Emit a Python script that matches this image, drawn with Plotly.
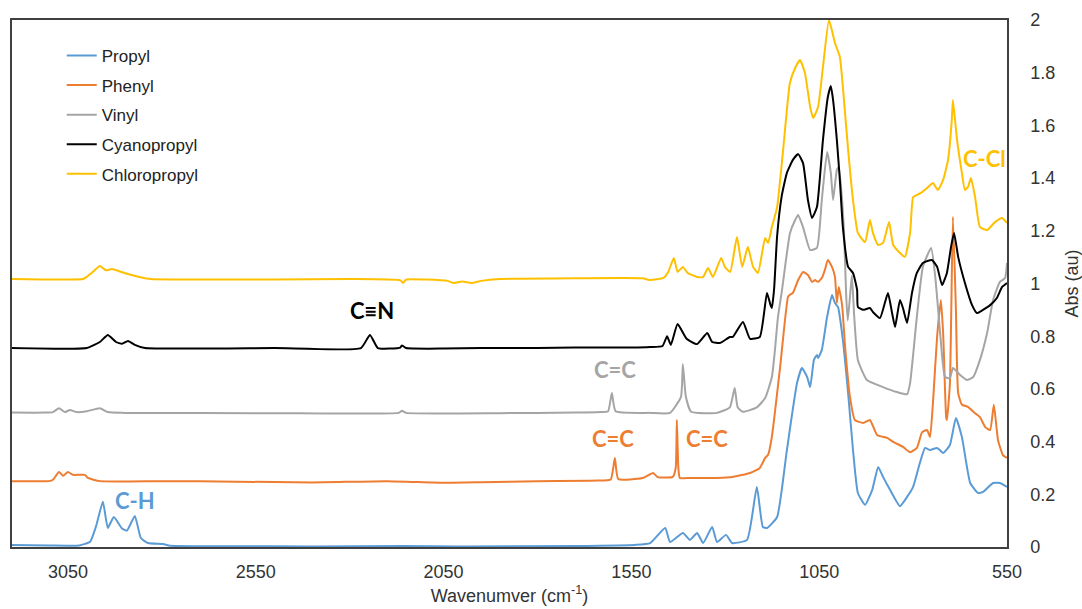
import plotly.graph_objects as go

# ---------------- data (wavenumber cm-1, absorbance au) ----------------
propyl_wn = [3199, 3100, 3020, 2991, 2975, 2957, 2944, 2928, 2906, 2893, 2872, 2856, 2837, 2797, 2778,
             2600, 2400, 2160, 2000, 1700, 1540, 1500, 1460, 1447, 1413, 1394, 1375, 1359, 1335, 1322,
             1298, 1282, 1242, 1216, 1200, 1189, 1162, 1136, 1109, 1096, 1082, 1074, 1064, 1056, 1053,
             1043, 1029, 1016, 1008, 1000, 987, 973, 960, 947, 928, 909, 893, 880, 861, 835, 816, 800,
             782, 768, 755, 736, 720, 702, 686, 670, 648, 627, 614, 587, 569, 550]
propyl_abs = [0.008, 0.006, 0.006, 0.02, 0.08, 0.172, 0.072, 0.114, 0.07, 0.062, 0.118, 0.034, 0.015, 0.011, 0.005,
              0.003, 0.002, 0.004, 0.002, 0.004, 0.008, 0.015, 0.072, 0.019, 0.053, 0.027, 0.053, 0.015, 0.076, 0.019,
              0.046, 0.015, 0.027, 0.228, 0.076, 0.072, 0.114, 0.368, 0.622, 0.679, 0.645, 0.607, 0.71, 0.729, 0.717,
              0.748, 0.873, 0.956, 0.926, 0.911, 0.786, 0.584, 0.368, 0.205, 0.16, 0.216, 0.304, 0.266, 0.216, 0.155, 0.19, 0.228,
              0.319, 0.376, 0.368, 0.376, 0.357, 0.387, 0.49, 0.417, 0.243, 0.205, 0.209, 0.243, 0.243, 0.228]

phenyl_wn = [3199, 3100, 3090, 3074, 3063, 3050, 3037, 3018, 3005, 2997, 2965, 2800, 2600, 2400, 2200, 2050,
             1950, 1800, 1640, 1605, 1594, 1585, 1520, 1492, 1480, 1440, 1432, 1429, 1425, 1421, 1394, 1322,
             1280, 1234, 1208, 1194, 1186, 1176, 1154, 1133, 1128, 1120, 1106, 1093, 1080, 1069, 1061, 1053,
             1043, 1035, 1027, 1016, 1008, 1003, 998, 989, 981, 968, 955, 933, 915, 896, 869, 853, 827, 808,
             790, 776, 763, 755, 747, 736, 726, 720, 712, 710, 702, 694, 686, 680, 670, 654, 635, 622, 608,
             595, 585, 574, 561, 550]
phenyl_abs = [0.25, 0.25, 0.255, 0.285, 0.27, 0.285, 0.274, 0.274, 0.274, 0.262, 0.25, 0.25, 0.248, 0.245, 0.25, 0.244,
              0.246, 0.25, 0.252, 0.256, 0.338, 0.258, 0.262, 0.281, 0.265, 0.266, 0.3, 0.482, 0.3, 0.262, 0.262, 0.262,
              0.266, 0.281, 0.3, 0.338, 0.35, 0.418, 0.683, 0.949, 0.957, 0.964, 1.013, 1.044, 1.032, 1.006, 1.013, 1.006,
              1.021, 1.051, 1.089, 1.063, 1.025, 0.926, 0.987, 0.918, 0.759, 0.569, 0.482, 0.471, 0.482, 0.425, 0.414, 0.399, 0.38, 0.36,
              0.376, 0.436, 0.444, 0.417, 0.55, 0.8, 0.937, 0.81, 0.493, 0.482, 0.62, 1.252, 0.9, 0.584, 0.54, 0.532, 0.508, 0.493, 0.455,
              0.444, 0.54, 0.406, 0.349, 0.338]

vinyl_wn = [3199, 3110, 3090, 3074, 3058, 3045, 3027, 3000, 2965, 2944, 2900, 2500, 2170, 2161, 2150, 1900,
            1700, 1630, 1612, 1602, 1592, 1500, 1447, 1418, 1413, 1405, 1391, 1322, 1288, 1275, 1267, 1253,
            1216, 1194, 1176, 1168, 1160, 1149, 1128, 1114, 1106, 1093, 1074, 1056, 1043, 1029, 1019, 1013,
            1003, 998, 989, 984, 978, 974, 968, 963, 957, 947, 923, 880, 843, 816, 808, 790, 774, 752, 741,
            728, 715, 702, 694, 675, 657, 640, 622, 603, 587, 569, 555, 550]
vinyl_abs = [0.51, 0.51, 0.512, 0.527, 0.512, 0.52, 0.512, 0.515, 0.527, 0.512, 0.509, 0.508, 0.509, 0.517, 0.509, 0.508,
             0.51, 0.512, 0.515, 0.584, 0.515, 0.509, 0.509, 0.57, 0.694, 0.57, 0.513, 0.509, 0.53, 0.603, 0.53, 0.513,
             0.53, 0.565, 0.645, 0.745, 0.87, 0.975, 1.19, 1.241, 1.26, 1.214, 1.127, 1.135, 1.317, 1.499, 1.419, 1.317,
             1.431, 1.442, 1.317, 1.2, 0.95, 0.86, 0.95, 1.03, 0.88, 0.71, 0.634, 0.607, 0.588, 0.58, 0.622, 0.873, 1.063, 1.135, 1.025,
             0.812, 0.645, 0.641, 0.679, 0.653, 0.634, 0.645, 0.71, 0.812, 0.937, 1.006, 1.021, 1.078]

cyano_wn = [3199, 3000, 2965, 2944, 2922, 2906, 2890, 2872, 2845, 2500, 2270, 2246, 2225, 2165, 2161, 2150,
            2050, 1950, 1800, 1700, 1550, 1500, 1467, 1455, 1445, 1427, 1403, 1375, 1348, 1335, 1314, 1288,
            1280, 1253, 1234, 1208, 1189, 1180, 1176, 1170, 1162, 1150, 1136, 1120, 1106, 1093, 1080, 1069, 1056, 1040,
            1027, 1019, 1013, 1003, 995, 987, 973, 960, 949, 947, 933, 915, 907, 888, 867, 856, 848, 835, 827,
            816, 803, 790, 774, 750, 736, 723, 710, 699, 691, 680, 662, 643, 630, 614, 595, 577, 563, 550]
cyano_abs = [0.755, 0.755, 0.778, 0.805, 0.778, 0.771, 0.782, 0.767, 0.755, 0.755, 0.755, 0.805, 0.755, 0.757, 0.765, 0.755,
             0.753, 0.755, 0.755, 0.757, 0.757, 0.759, 0.763, 0.8, 0.767, 0.846, 0.79, 0.77, 0.812, 0.778, 0.774, 0.797,
             0.797, 0.854, 0.79, 0.797, 0.964, 0.92, 0.907, 0.98, 1.18, 1.33, 1.42, 1.469, 1.491, 1.457, 1.317, 1.249, 1.29, 1.545,
             1.708, 1.75, 1.696, 1.545, 1.393, 1.214, 1.063, 1.04, 0.975, 0.911, 0.9, 0.907, 0.892, 0.869, 0.964, 0.888, 0.835, 0.937, 0.907,
             0.85, 0.964, 1.04, 1.078, 1.089, 1.063, 0.994, 1.04, 1.139, 1.192, 1.101, 1.002, 0.918, 0.888, 0.9, 0.918, 0.945, 0.987, 1.002]

chloro_wn = [3199, 3010, 3000, 2987, 2965, 2949, 2933, 2900, 2860, 2830, 2500, 2300, 2165, 2158, 2150, 2040,
             2025, 2000, 1975, 1950, 1900, 1700, 1520, 1500, 1465, 1452, 1437, 1427, 1413, 1400, 1375, 1359,
             1346, 1333, 1311, 1301, 1287, 1269, 1255, 1240, 1226, 1213, 1194, 1186, 1176, 1162, 1146, 1128,
             1114, 1101, 1088, 1074, 1066, 1053, 1040, 1024, 1008, 995, 987, 973, 960, 947, 928, 915, 907, 893,
             880, 864, 853, 835, 822, 808, 800, 790, 776, 763, 747, 734, 720, 707, 697, 694, 683, 670, 662,
             654, 646, 635, 622, 603, 582, 563, 550]
chloro_abs = [1.017, 1.017, 1.025, 1.04, 1.066, 1.05, 1.055, 1.04, 1.025, 1.017, 1.015, 1.017, 1.012, 1.002, 1.015, 1.01,
              1.002, 1.008, 1.002, 1.01, 1.017, 1.02, 1.02, 1.013, 1.021, 1.044, 1.097, 1.044, 1.063, 1.04, 1.025, 1.025,
              1.059, 1.025, 1.097, 1.063, 1.044, 1.176, 1.063, 1.139, 1.063, 1.04, 1.173, 1.154, 1.214, 1.29, 1.507, 1.761,
              1.818, 1.848, 1.799, 1.67, 1.628, 1.67, 1.822, 2.0, 1.913, 1.86, 1.746, 1.507, 1.317, 1.192, 1.157, 1.241, 1.192, 1.146,
              1.154, 1.233, 1.146, 1.116, 1.101, 1.192, 1.328, 1.336, 1.347, 1.362, 1.381, 1.355, 1.393, 1.469, 1.62, 1.696, 1.545, 1.419, 1.355,
              1.366, 1.4, 1.328, 1.214, 1.203, 1.233, 1.249, 1.23]

series_names = ["Propyl", "Phenyl", "Vinyl", "Cyanopropyl", "Chloropropyl"]
series_colors = ["#5B9BD5", "#ED7D31", "#A5A5A5", "#000000", "#FFC000"]
series_x = [propyl_wn, phenyl_wn, vinyl_wn, cyano_wn, chloro_wn]
series_y = [propyl_abs, phenyl_abs, vinyl_abs, cyano_abs, chloro_abs]

x_ticks = [3050, 2550, 2050, 1550, 1050, 550]
y_ticks = [0, 0.2, 0.4, 0.6, 0.8, 1, 1.2, 1.4, 1.6, 1.8, 2]

# peak labels: (text, wavenumber, absorbance, colour)
labels = [
    ("C-H", 2872, 0.175, "#5B9BD5"),
    ("C\u2261N", 2241, 0.899, "#000000"),
    ("C=C", 1594, 0.672, "#A5A5A5"),
    ("C=C", 1599, 0.41, "#ED7D31"),
    ("C=C", 1349, 0.41, "#ED7D31"),
    ("C-Cl", 610, 1.476, "#FFC000"),
]

fig = go.Figure()
for name, col, xs, ys in zip(series_names, series_colors, series_x, series_y):
    fig.add_trace(go.Scatter(x=xs, y=ys, mode="lines", name=name, legendgroup=name,
                             line=dict(color=col, width=2, shape="spline", smoothing=0.45)))

for text, wx, wy, col in labels:
    fig.add_annotation(x=wx, y=wy, xref="x", yref="y", text="<b>%s</b>" % text, showarrow=False,
                       font=dict(family="Lato, Open Sans, sans-serif", size=22, color=col))

axis_font = dict(family="Liberation Sans, Arial, sans-serif", size=18, color="#333333")
fig.update_layout(
    width=1082, height=609,
    margin=dict(l=12, r=75, t=20, b=62),
    plot_bgcolor="white", paper_bgcolor="white",
    font=axis_font,
    showlegend=True,
    legend=dict(x=0.05, y=0.966, xanchor="left", yanchor="top", bgcolor="rgba(0,0,0,0)",
                font=dict(family="Liberation Sans, Arial, sans-serif", size=17, color="#222222"),
                tracegroupgap=4.5, itemwidth=30),
    xaxis=dict(range=[3199, 550], tickvals=x_ticks, ticktext=[str(t) for t in x_ticks],
               showgrid=False, zeroline=False, showline=True, mirror=True, automargin=False,
               linecolor="#404040", linewidth=1.5, ticks="outside", ticklen=8,
               tickcolor="rgba(0,0,0,0)", tickfont=axis_font,
               title=dict(text="Wavenumver (cm<sup>-1</sup>)", font=axis_font, standoff=8)),
    yaxis=dict(range=[0, 2], tickvals=y_ticks, ticktext=[("%g" % t) for t in y_ticks], side="right",
               showgrid=False, zeroline=False, showline=True, mirror=True, automargin=False,
               linecolor="#404040", linewidth=1.5, ticks="outside", ticklen=18,
               tickcolor="rgba(0,0,0,0)", tickfont=axis_font,
               title=dict(text="Abs (au)", font=axis_font, standoff=16)),
)

fig.write_html("out.html", config={"displayModeBar": False},
               post_script="document.body.style.margin='0';document.body.style.overflow='hidden';")
